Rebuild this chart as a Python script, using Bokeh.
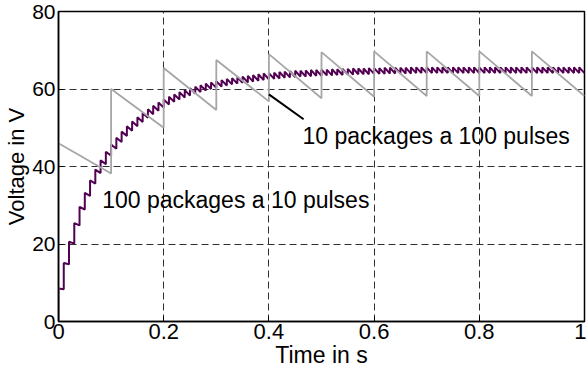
from bokeh.plotting import figure
from bokeh.models import FixedTicker, NumeralTickFormatter
from bokeh.core.properties import value
from bokeh.embed import file_html
from bokeh.resources import INLINE

# ---------------- data ----------------
# 10 packages a 100 pulses (grey): package period 0.1 s
gray_period = 0.1
gray_peak = [46.0, 60.0, 65.4, 67.5, 69.0, 69.5, 69.7, 69.7, 69.7, 69.7]
gray_end = [38.2, 50.0, 54.6, 56.8, 57.6, 58.0, 58.2, 58.2, 58.2, 58.2]

# 100 packages a 10 pulses (purple): package period 0.01 s
purple_period = 0.01
purple_peak = [
    8.5, 15.1, 20.6, 25.4, 29.6, 33.2, 36.4, 39.2, 41.6, 43.8,
    45.7, 47.4, 49.0, 50.4, 51.6, 52.7, 53.8, 54.8, 55.7, 56.5,
    57.3, 58.0, 58.6, 59.2, 59.7, 60.2, 60.6, 61.0, 61.4, 61.7,
    62.0, 62.3, 62.6, 62.8, 63.0, 63.2, 63.4, 63.6, 63.8, 64.0,
    64.1, 64.2, 64.4, 64.5, 64.6, 64.7, 64.7, 64.8, 64.9, 64.9,
    65.0, 65.0, 65.1, 65.1, 65.2, 65.2, 65.3, 65.3, 65.3, 65.4,
    65.4, 65.4, 65.5, 65.5, 65.5, 65.5, 65.5, 65.6, 65.6, 65.6,
    65.6, 65.6, 65.6, 65.6, 65.6, 65.6, 65.6, 65.6, 65.6, 65.6,
    65.6, 65.6, 65.6, 65.6, 65.6, 65.6, 65.6, 65.6, 65.6, 65.6,
    65.6, 65.6, 65.6, 65.6, 65.6, 65.6, 65.6, 65.6, 65.6, 65.6,
]
purple_end = [
    8.3, 14.8, 20.1, 24.8, 28.9, 32.4, 35.6, 38.3, 40.6, 42.8,
    44.6, 46.3, 47.9, 49.2, 50.4, 51.5, 52.6, 53.5, 54.4, 55.2,
    56.0, 56.7, 57.3, 57.8, 58.3, 58.8, 59.2, 59.6, 60.0, 60.3,
    60.6, 60.9, 61.2, 61.4, 61.6, 61.7, 61.9, 62.1, 62.3, 62.5,
    62.6, 62.7, 62.9, 63.0, 63.1, 63.2, 63.2, 63.3, 63.4, 63.4,
    63.5, 63.5, 63.6, 63.6, 63.7, 63.7, 63.8, 63.8, 63.8, 63.9,
    63.9, 63.9, 64.0, 64.0, 64.0, 64.0, 64.0, 64.1, 64.1, 64.1,
    64.1, 64.1, 64.1, 64.1, 64.1, 64.1, 64.1, 64.1, 64.1, 64.1,
    64.1, 64.1, 64.1, 64.1, 64.1, 64.1, 64.1, 64.1, 64.1, 64.1,
    64.1, 64.1, 64.1, 64.1, 64.1, 64.1, 64.1, 64.1, 64.1, 64.1,
]

x_ticks = [0, 0.2, 0.4, 0.6, 0.8, 1]
y_ticks = [0, 20, 40, 60, 80]

label_gray = "10 packages a 100 pulses"
label_purple = "100 packages a 10 pulses"
label_gray_pos = (0.464, 48.0)
label_purple_pos = (0.083, 31.4)
leader = ([0.4, 0.466], [58.6, 52.2])

FONT = "Liberation Sans"
FS_XTICK = "22px"
FS_YTICK = "21px"
FS_XLABEL = "23px"
FS_YLABEL = "22px"
FS_TEXT = "23px"


def sawtooth(period, peaks, ends):
    xs, ys = [0.0], [0.0]
    for i, (pk, en) in enumerate(zip(peaks, ends)):
        xs += [round(i * period, 4), round((i + 1) * period, 4)]
        ys += [pk, en]
    return xs, ys


p = figure(width=586, height=376, x_range=(0, 1), y_range=(0, 80),
           output_backend="svg", toolbar_location=None,
           min_border_left=58, min_border_right=2, min_border_top=11,
           min_border_bottom=55)
p.background_fill_color = "white"
p.border_fill_color = "white"
p.outline_line_color = "black"
p.outline_line_width = 1.5

gx, gy = sawtooth(gray_period, gray_peak, gray_end)
px, py = sawtooth(purple_period, purple_peak, purple_end)

p.line(px, py, line_color="#520052", line_width=2)
p.line(gx, gy, line_color="#A6A6A6", line_width=1.8)

p.line(leader[0], leader[1], line_color="black", line_width=2)

p.text(x=[label_gray_pos[0], label_purple_pos[0]],
       y=[label_gray_pos[1], label_purple_pos[1]],
       text=[label_gray, label_purple],
       text_font=value(FONT), text_font_size=FS_TEXT, text_color="black",
       text_align="left", text_baseline="alphabetic")

for ax in (p.xaxis, p.yaxis):
    ax.axis_line_color = "black"
    ax.axis_line_width = 1.5
    ax.major_tick_in = 5
    ax.major_tick_out = 0
    ax.minor_tick_in = 0
    ax.minor_tick_out = 0
    ax.major_tick_line_color = "black"
    ax.major_label_text_font = FONT
    ax.major_label_text_color = "black"
    ax.axis_label_text_font = FONT
    ax.axis_label_text_font_style = "normal"
    ax.axis_label_text_color = "black"

p.xaxis.major_label_text_font_size = FS_XTICK
p.yaxis.major_label_text_font_size = FS_YTICK
p.xaxis.axis_label_text_font_size = FS_XLABEL
p.yaxis.axis_label_text_font_size = FS_YLABEL

p.xaxis.ticker = FixedTicker(ticks=x_ticks)
p.yaxis.ticker = FixedTicker(ticks=y_ticks)
p.xaxis.formatter = NumeralTickFormatter(format="0.[0]")
p.yaxis.formatter = NumeralTickFormatter(format="0")
p.xaxis.axis_label = "Time in s"
p.yaxis.axis_label = "Voltage in V"
p.xaxis.major_label_standoff = 2
p.xaxis.axis_label_standoff = 0
p.yaxis.major_label_standoff = 3
p.yaxis.axis_label_standoff = 0

p.xgrid.ticker = FixedTicker(ticks=x_ticks[1:-1])
p.ygrid.ticker = FixedTicker(ticks=y_ticks[1:-1])
for g in (p.xgrid, p.ygrid):
    g.grid_line_color = "#303030"
    g.grid_line_width = 1
    g.grid_line_dash = "7 4"
    g.grid_line_alpha = 1

open("out.html", "w").write(file_html(p, INLINE))
